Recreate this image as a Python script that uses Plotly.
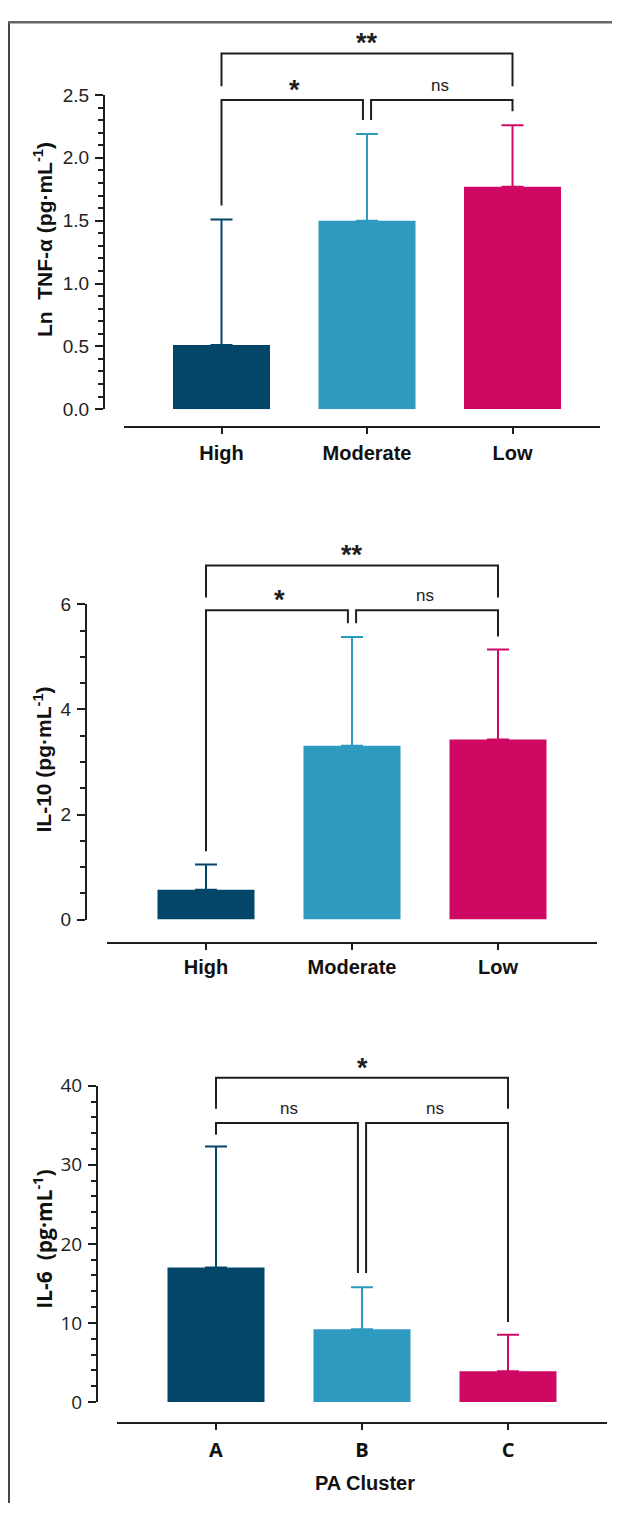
import plotly.graph_objects as go

# page placement of the plot div and vertical capture scale (measured)
OX, OY, SY = 8, 22.5, 0.982
W, H = 604, 1508

# ---------------- data ----------------
tnf_groups = ["High", "Moderate", "Low"]
tnf_mean = [0.51, 1.50, 1.77]
tnf_sd = [1.00, 0.69, 0.49]

il10_groups = ["High", "Moderate", "Low"]
il10_mean = [0.57, 3.31, 3.43]
il10_sd = [0.48, 2.07, 1.71]

il6_groups = ["A", "B", "C"]
il6_mean = [17.0, 9.2, 3.9]
il6_sd = [15.3, 5.3, 4.6]

bar_colors = ["#03466a", "#2f9ac0", "#cf0863"]

# significance comparisons: (group i, group j, label)
tnf_sig = [(0, 1, "*"), (1, 2, "ns"), (0, 2, "**")]
il10_sig = [(0, 1, "*"), (1, 2, "ns"), (0, 2, "**")]
il6_sig = [(0, 1, "ns"), (1, 2, "ns"), (0, 2, "*")]

# bracket geometry in data units: (level, left end, right end)
tnf_brk = [(2.46, 1.62, 2.30), (2.46, 2.30, 2.37), (2.83, 2.57, 2.57)]
il10_brk = [(5.89, 1.30, 5.64), (5.89, 5.64, 5.39), (6.74, 6.13, 6.13)]
il6_brk = [(35.3, 33.8, 16.3), (35.3, 16.3, 10.1), (41.0, 37.1, 37.1)]

# ---------------- layout helpers (target pixel -> paper fraction) ----------------
def fx(px):
    return (px - OX) / W


def fy(py):
    return 1 - (py / SY - OY) / H


ARIAL = "Liberation Sans, Arial, sans-serif"
SEGOE = "Open Sans, Noto Sans, sans-serif"
INK = "#1e1e1e"

panels = [
    dict(groups=tnf_groups, mean=tnf_mean, sd=tnf_sd, sig=tnf_sig, brk=tnf_brk,
         ytop=96, yzero=410, ymax=2.5, dtick=0.5, minor=0.1, fmt=".1f",
         yax_x=104, xl=124, xr=600, xax_y=428, c0=221.5, step=145.5, ext_top=25,
         tickfam=ARIAL, catfam=ARIAL, titlefam=ARIAL, standoff=2,
         title="Ln\u00a0 TNF-α (pg·mL<sup>-1</sup>)", title_y=241),
    dict(groups=il10_groups, mean=il10_mean, sd=il10_sd, sig=il10_sig, brk=il10_brk,
         ytop=605, yzero=920, ymax=6, dtick=2, minor=0.5, fmt="d",
         yax_x=86, xl=107, xr=597, xax_y=943, c0=206, step=146, ext_top=530,
         tickfam=ARIAL, catfam=ARIAL, titlefam=ARIAL, standoff=0,
         title="IL-10 (pg·mL<sup>-1</sup>)", title_y=760),
    dict(groups=il6_groups, mean=il6_mean, sd=il6_sd, sig=il6_sig, brk=il6_brk,
         ytop=1086, yzero=1402, ymax=40, dtick=10, minor=2, fmt="d",
         yax_x=97, xl=117, xr=607, xax_y=1423, c0=216, step=146, ext_top=1045,
         tickfam=SEGOE, catfam=SEGOE, titlefam=SEGOE, standoff=3,
         title="IL-6\u00a0 (pg·mL<sup>-1</sup>)", title_y=1240),
]

fig = go.Figure()
layout = dict(
    width=W, height=H, autosize=False,
    margin=dict(l=0, r=0, t=0, b=0, pad=0),
    paper_bgcolor="white", plot_bgcolor="rgba(0,0,0,0)",
    barmode="overlay", showlegend=False,
)
annotations = []

for k, p in enumerate(panels):
    n = k + 1
    xs = "" if n == 1 else str(n)
    xa, ya, ye = "x" + xs, "y" + xs, "y" + str(n + 3)
    scale = (p["yzero"] - p["ytop"]) / p["ymax"]
    ext_max = (p["yzero"] - p["ext_top"]) / scale
    bw = 97 / p["step"]

    for i, (m, s, c) in enumerate(zip(p["mean"], p["sd"], bar_colors)):
        fig.add_trace(go.Bar(
            x=[i], y=[m], width=bw, xaxis=xa, yaxis=ya,
            marker=dict(color=c, line=dict(width=0)),
            error_y=dict(type="data", array=[s], arrayminus=[0], symmetric=False,
                         color=c, thickness=2, width=11),
            hoverinfo="skip", showlegend=False,
        ))

    off = 0.028
    for (i, j, lab), (lvl, e1, e2) in zip(p["sig"], p["brk"]):
        xi = i + (off if i == 1 else 0)
        xj = j - (off if j == 1 else 0)
        fig.add_trace(go.Scatter(
            x=[xi, xi, xj, xj], y=[e1, lvl, lvl, e2], mode="lines",
            line=dict(color=INK, width=2), xaxis=xa, yaxis=ye,
            hoverinfo="skip", showlegend=False, cliponaxis=False,
        ))
        star = "*" in lab
        annotations.append(dict(
            x=(i + j) / 2, y=lvl, xref=xa, yref=ye, text=lab, showarrow=False,
            xanchor="center", yanchor="bottom",
            yshift=-7 if star else 3,
            font=dict(family=ARIAL, size=27 if star else 17, color=INK,
                      weight="bold" if star else "normal"),
        ))

    rng_x = [(p["xl"] - p["c0"]) / p["step"], (p["xr"] - p["c0"]) / p["step"]]
    layout["xaxis" + xs] = dict(
        domain=[fx(p["xl"]), fx(p["xr"])], range=rng_x, anchor="free",
        position=fy(p["xax_y"]), showline=True, linecolor=INK, linewidth=2,
        ticks="outside", ticklen=6, tickwidth=2, tickcolor=INK,
        tickvals=list(range(len(p["groups"]))), ticktext=p["groups"],
        tickfont=dict(family=p["catfam"], size=20, color="#111", weight="bold"),
        ticklabelstandoff=p["standoff"],
        showgrid=False, zeroline=False, fixedrange=True,
    )
    layout["yaxis" + xs] = dict(
        domain=[fy(p["yzero"]), fy(p["ytop"])], range=[0, p["ymax"]],
        anchor="free", position=fx(p["yax_x"]), showline=True, linecolor=INK,
        linewidth=2, ticks="outside", ticklen=8, tickwidth=2, tickcolor=INK,
        tick0=0, dtick=p["dtick"], tickformat=p["fmt"],
        minor=dict(dtick=p["minor"], tick0=0, ticks="outside", ticklen=5,
                   tickwidth=2, tickcolor=INK, showgrid=False),
        tickfont=dict(family=p["tickfam"], size=19, color="#222"),
        ticklabelstandoff=2,
        showgrid=False, zeroline=False, fixedrange=True,
    )
    layout["yaxis" + str(n + 3)] = dict(
        domain=[fy(p["yzero"]), fy(p["ext_top"])], range=[0, ext_max],
        anchor=xa, visible=False, showgrid=False, zeroline=False, fixedrange=True,
    )
    annotations.append(dict(
        x=fx(43), y=fy(p["title_y"]), xref="paper", yref="paper",
        text=p["title"], textangle=-90, showarrow=False,
        xanchor="center", yanchor="middle",
        font=dict(family=p["titlefam"], size=21, color="#111", weight="bold"),
    ))

annotations.append(dict(
    x=fx(365), y=fy(1483), xref="paper", yref="paper", text="PA Cluster",
    showarrow=False, xanchor="center", yanchor="middle",
    font=dict(family=ARIAL, size=20, color="#111", weight="bold"),
))

layout["annotations"] = annotations
layout["shapes"] = [
    dict(type="line", xref="paper", yref="paper", x0=1 / W, x1=1 / W,
         y0=0, y1=1, line=dict(color="#444", width=2)),
    dict(type="line", xref="paper", yref="paper", x0=0, x1=1,
         y0=1 - 1.2 / H, y1=1 - 1.2 / H, line=dict(color="#666", width=2.5)),
]

fig.update_layout(**layout)
fig.write_html("out.html")
